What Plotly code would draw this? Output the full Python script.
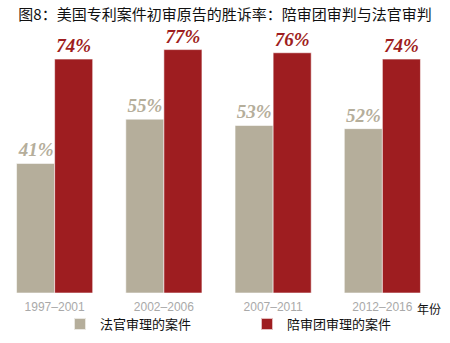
import plotly.graph_objects as go

periods = ["1997–2001", "2002–2006", "2007–2011", "2012–2016"]
judge_rates = [41, 55, 53, 52]
jury_rates = [74, 77, 76, 74]
series_names = ["法官审理的案件", "陪审团审理的案件"]
title_text = "图8：美国专利案件初审原告的胜诉率：陪审团审判与法官审判"

GRAY = "#b5ae9b"
RED = "#9e1d20"

fig = go.Figure()
fig.add_trace(go.Bar(
    x=periods, y=judge_rates, name=series_names[0],
    marker=dict(color=GRAY, line=dict(color="rgba(255,255,255,0.7)", width=0.8)),
    texttemplate="%{y}%", textposition="outside", cliponaxis=False,
    textfont=dict(family="Liberation Serif", size=19, color=GRAY, weight="bold", style="italic"),
))
fig.add_trace(go.Bar(
    x=periods, y=jury_rates, name=series_names[1],
    marker=dict(color=RED, line=dict(color="rgba(255,255,255,0.7)", width=0.8)),
    texttemplate="%{y}%", textposition="outside", cliponaxis=False,
    textfont=dict(family="Liberation Serif", size=19, color=RED, weight="bold", style="italic"),
))

fig.update_layout(
    width=450, height=343,
    margin=dict(l=0, r=13, t=30, b=50, autoexpand=False),
    paper_bgcolor="white", plot_bgcolor="white",
    barmode="group", bargap=0.303, bargroupgap=0,
    title=dict(text=title_text, x=0.5, xanchor="center", y=1 - 15 / 343, yanchor="middle",
               font=dict(family="Noto Sans CJK SC", size=15, color="#111")),
    xaxis=dict(range=[-0.5, 3.5], showgrid=False, showline=False, zeroline=False,
               ticks="", ticklabelstandoff=5,
               tickfont=dict(family="Liberation Sans", size=12, color="#a9a9a9")),
    yaxis=dict(range=[0, 83.2], visible=False),
    showlegend=True,
    legend=dict(orientation="h", x=60 / 450, xref="container", xanchor="left",
                y=1 - 324 / 343, yref="container", yanchor="middle",
                bgcolor="rgba(0,0,0,0)",
                entrywidth=142, entrywidthmode="pixels",
                font=dict(family="Noto Sans CJK SC", size=13, color="#111"),
                traceorder="normal", itemsizing="constant"),
    annotations=[dict(text="年份", x=1.0, xref="paper", y=-0.06, yref="paper",
                      xanchor="left", yanchor="middle", showarrow=False,
                      font=dict(family="Noto Sans CJK SC", size=12, color="#111"),
                      xshift=-22)],
)

fig.write_html("out.html")
